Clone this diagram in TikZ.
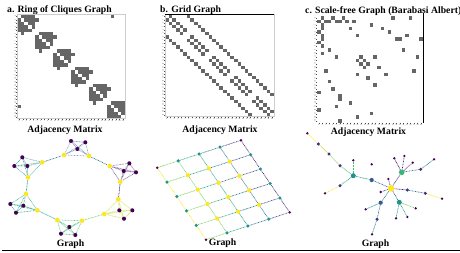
\documentclass[tikz,border=0pt]{standalone}
\usepackage{fontspec}
\setmainfont{Liberation Serif}
\pgfdeclarelayer{bg}\pgfdeclarelayer{paper}\pgfsetlayers{paper,bg,main}
\definecolor{vpur}{HTML}{440154}
\definecolor{vyel}{HTML}{FDE725}
\definecolor{vteal}{HTML}{21918C}
\definecolor{vd2}{HTML}{472D7B}
\definecolor{vd3}{HTML}{365C8D}
\definecolor{vd5}{HTML}{35B779}
\definecolor{cellc}{HTML}{666666}
% viridis samples
\definecolor{v00}{HTML}{440154}
\definecolor{v10}{HTML}{482475}
\definecolor{v20}{HTML}{414487}
\definecolor{v30}{HTML}{355F8D}
\definecolor{v40}{HTML}{2A788E}
\definecolor{v50}{HTML}{21918C}
\definecolor{v60}{HTML}{22A884}
\definecolor{v70}{HTML}{44BF70}
\definecolor{v80}{HTML}{7AD151}
\definecolor{v90}{HTML}{BDDF26}
\definecolor{v100}{HTML}{FDE725}
\tikzset{
  ttl/.style={font=\bfseries\fontsize{9.7}{11}\selectfont, inner sep=0pt},
  tk/.style={font=\fontsize{1.8}{2}\selectfont, inner sep=0.2pt, text=black!80},
  ed/.style={line width=0.65pt, dash pattern=on 0.8pt off 0.7pt},
  vn/.style={circle, inner sep=0pt, draw=none},
  ya/.style={vn, fill=vyel, minimum size=4.7pt},
  pa/.style={vn, fill=vpur, minimum size=4.1pt},
  gd2/.style={vn, fill=vpur, minimum size=2.8pt},
  gd3/.style={vn, fill=vteal, minimum size=3.5pt},
  gd4/.style={vn, fill=vyel, minimum size=4.3pt},
  c1/.style={vn, fill=vpur, minimum size=2.6pt},
  c2/.style={vn, fill=vd2, minimum size=3.4pt},
  c3/.style={vn, fill=vd3, minimum size=4.2pt},
  c4/.style={vn, fill=vteal, minimum size=5pt},
  c5/.style={vn, fill=vd5, minimum size=5.6pt},
  c7/.style={vn, fill=vyel, minimum size=6.7pt},
}
\newcommand\cel[2]{\fill[cellc] ({\mx+(#2)*\mw},{\my+(#1)*\mh}) rectangle ++(\mw,\mh);}
\newcommand\mticks{%
  \foreach \i in {0,...,29}{%
    \draw[line width=0.25pt,black!70] ({\mx+(\i+0.5)*\mw},{\my+30*\mh}) -- ++(0,0.9);
    \node[tk, anchor=north] at ({\mx+(\i+0.5)*\mw},{\my+30*\mh+1}) {\i};
    \draw[line width=0.25pt,black!70] (\mx,{\my+(\i+0.5)*\mh}) -- ++(-0.9,0);
    \node[tk, rotate=90, anchor=south] at ({\mx-1},{\my+(\i+0.5)*\mh}) {\i};
  }}
\newcommand\mkclique[6]{\draw[ed,#6] (#1)--(#2) (#1)--(#3) (#1)--(#4) (#1)--(#5) (#2)--(#3) (#2)--(#4) (#2)--(#5) (#3)--(#4) (#3)--(#5) (#4)--(#5);}
\begin{document}
\begin{tikzpicture}[x=1pt,y=-1pt]
\useasboundingbox (0,0) rectangle (460,252);
\begin{pgfonlayer}{paper}
\fill[white] (0,0) rectangle (460,252);
\end{pgfonlayer}

% titles
\node[ttl, anchor=base west] (ta) at (7,12) {a. Ring of Cliques Graph};
\node[ttl, anchor=base west] (tb) at (160,12.5) {b. Grid Graph};
\node[ttl, anchor=base west] (tc) at (305,13.5) {c. Scale-free Graph (Barabasi Albert)};

% ---------- matrix a ----------
\def\mx{17.3}\def\my{14.7}\def\mw{3.59}\def\mh{3.46}
\foreach \k in {0,...,5}{\foreach \r in {0,...,4}{\foreach \c in {0,...,4}{%
  \ifnum\r=\c\else\cel{5*\k+\r}{5*\k+\c}\fi}}}
\foreach \k in {0,...,5}{\pgfmathtruncatemacro\t{mod(5*\k+5,30)}\cel{5*\k+1}{\t}\cel{\t}{5*\k+1}}
\draw[black!20, line width=0.5pt] (\mx,\my) rectangle ++({30*\mw},{30*\mh});
\mticks

% ---------- matrix b ----------
\def\mx{165}\def\my{14.7}\def\mw{3.63}\def\mh{3.4}
\foreach \a in {0,...,4}{\foreach \b in {0,...,5}{%
  \pgfmathtruncatemacro\n{6*\a+\b}%
  \ifnum\b<5 \cel{\n}{\n+1}\cel{\n+1}{\n}\fi
  \ifnum\a<4 \cel{\n}{\n+6}\cel{\n+6}{\n}\fi}}
\draw[black!20, line width=0.5pt] (\mx,\my) rectangle ++({30*\mw},{30*\mh});
\draw[black, line width=0.8pt] (\mx,\my) -- ++({30*\mw},0);
\mticks

% ---------- matrix c ----------
\def\mx{317}\def\my{16}\def\mw{3.53}\def\mh{3.55}
\foreach \p/\q in {0/1,0/4,0/7,0/21,0/26,1/2,1/3,1/5,1/6,1/8,1/10,2/15,3/9,3/18,4/20,5/11,5/25,6/22,6/23,6/29,9/24,11/12,11/16,11/28,12/13,13/14,14/17,15/27,16/19}{\cel{\p}{\q}\cel{\q}{\p}}
\draw[black, line width=0.8pt] ({\mx+30*\mw},{\my-3}) -- ({\mx+30*\mw},{\my+30*\mh});
\mticks

% labels
\node[ttl, anchor=base] (ama) at (65,132) {Adjacency Matrix};
\node[ttl, anchor=base] (amb) at (220,132) {Adjacency Matrix};
\node[ttl, anchor=base] (amc) at (368.5,134.5) {Adjacency Matrix};
\node[ttl, anchor=base] (gla) at (70.5,246.3) {Graph};
\node[ttl, anchor=base] (glb) at (222.5,245.5) {Graph};
\node[ttl, anchor=base] (glc) at (375.5,246.5) {Graph};

% ---------- graph a ----------
\node[pa] (T1) at (71,141) {};   \node[pa] (T2) at (85.3,142.3) {}; \node[pa] (T3) at (77.3,149) {};
\node[ya] (Ty1) at (64,155) {};  \node[ya] (Ty2) at (89,156) {};
\node[ya] (RTy1) at (109.7,166) {}; \node[ya] (RTy2) at (120.3,181.7) {};
\node[pa] (RT1) at (129.3,163.3) {}; \node[pa] (RT2) at (123.7,171) {}; \node[pa] (RT3) at (136,172.3) {};
\node[ya] (RBy1) at (118.3,199.3) {}; \node[ya] (RBy2) at (104.3,214) {};
\node[pa] (RB1) at (119.3,210.3) {}; \node[pa] (RB2) at (132.3,210.3) {}; \node[pa] (RB3) at (124,218.7) {};
\node[ya] (By1) at (82,220.7) {}; \node[ya] (By2) at (57.3,220) {};
\node[pa] (B1) at (69.3,227) {}; \node[pa] (B2) at (61,233.7) {}; \node[pa] (B3) at (75.3,235) {};
\node[ya] (LBy1) at (37.3,210.3) {}; \node[ya] (LBy2) at (26,194) {};
\node[pa] (LB1) at (10.3,204) {}; \node[pa] (LB2) at (23.3,205.7) {}; \node[pa] (LB3) at (16,212.7) {};
\node[ya] (LTy1) at (28,177.3) {}; \node[ya] (LTy2) at (42.3,162.3) {};
\node[pa] (LT1) at (22.3,157.3) {}; \node[pa] (LT2) at (14.3,166) {}; \node[pa] (LT3) at (27.3,166) {};
\begin{pgfonlayer}{bg}
\mkclique{T1}{T2}{T3}{Ty1}{Ty2}{v30!60}
\mkclique{RT1}{RT2}{RT3}{RTy1}{RTy2}{v10!70}
\mkclique{RB1}{RB2}{RB3}{RBy1}{RBy2}{v90!80}
\mkclique{B1}{B2}{B3}{By1}{By2}{v70!80}
\mkclique{LB1}{LB2}{LB3}{LBy1}{LBy2}{v60!80}
\mkclique{LT1}{LT2}{LT3}{LTy1}{LTy2}{v50!70}
\draw[ed,v40] (Ty2) -- (RTy1);
\draw[ed,v10] (RTy2) -- (RBy1);
\draw[ed,v80] (RBy2) -- (By1);
\draw[ed,v60] (By2) -- (LBy1);
\draw[ed,v60] (LBy2) -- (LTy1);
\draw[ed,v40] (LTy2) -- (Ty1);
\end{pgfonlayer}

% ---------- graph b ----------
\foreach \i in {0,...,4}{\foreach \j in {0,...,5}{%
  \pgfmathtruncatemacro\dg{4-(\i==0)-(\i==4)-(\j==0)-(\j==5)}%
  \node[gd\dg] (g\i\j) at ({157.3+20.9*\i+9.74*\j},{167.7-6.85*\i+14.4*\j}) {};}}
\begin{pgfonlayer}{bg}
\foreach \i/\cc in {0/v100,1/v80,2/v60,3/v40,4/v10}{\foreach \j in {0,...,4}{%
  \pgfmathtruncatemacro\jn{\j+1}\draw[ed,\cc] (g\i\j) -- (g\i\jn);}}
\foreach \i/\cc in {0/v80,1/v60,2/v40,3/v20}{\foreach \j in {0,...,5}{%
  \pgfmathtruncatemacro\inx{\i+1}\draw[ed,\cc] (g\i\j) -- (g\inx\j);}}
\end{pgfonlayer}

% ---------- graph c ----------
\node[c1] (cA) at (307.3,133.3) {};
\node[c2] (cB) at (318.3,144) {};
\node[c2] (cC) at (329,154) {};
\node[c2] (cD) at (340,165.7) {};
\node[c1] (cE) at (353.3,160.3) {};
\node[c4] (cF) at (353.3,175.7) {};
\node[c2] (cG) at (340,185.7) {};
\node[c1] (cH) at (325,193.3) {};
\node[c1] (cI) at (371.7,164.3) {};
\node[c3] (cJ) at (371.7,180) {};
\node[c1] (cK) at (394.3,158.3) {};
\node[c1] (cL) at (404.3,156) {};
\node[c1] (cM) at (412.7,162.7) {};
\node[c5] (cN) at (401.7,172.3) {};
\node[c2] (cO) at (420.7,169.3) {};
\node[c1] (cP) at (434,159.3) {};
\node[c1] (cQ) at (388.3,179) {};
\node[c7] (cR) at (391,188.3) {};
\node[c1] (cS) at (380.7,192) {};
\node[c2] (cT) at (407.3,190) {};
\node[c2] (cU) at (425.3,193.3) {};
\node[c1] (cV) at (442,198.7) {};
\node[c3] (cW) at (380.7,202.7) {};
\node[c1] (cX) at (365.7,209.3) {};
\node[c2] (cY) at (377,219.3) {};
\node[c1] (cZ) at (372,234.3) {};
\node[c4] (cAA) at (399.3,202.3) {};
\node[c1] (cAB) at (415.7,208.3) {};
\node[c1] (cAC) at (407.3,217) {};
\node[c1] (cAD) at (396,218.3) {};
\begin{pgfonlayer}{bg}
\foreach \p/\q/\cc in {cA/cB/v100,cB/cC/v90,cC/cD/v80,cD/cF/v70,cE/cF/v70,cF/cG/v60,cG/cH/v100,
  cF/cJ/v50,cJ/cR/v30,cR/cN/v10,cN/cK/v00,cN/cL/v10,cN/cM/v10,cN/cO/v30,cO/cP/v40,
  cR/cQ/v20,cR/cS/v20,cR/cT/v10,cT/cU/v40,cU/cV/v100,cR/cW/v40,cW/cX/v50,cW/cY/v40,
  cY/cZ/v50,cR/cAA/v30,cAA/cAB/v80,cAA/cAC/v60,cAA/cAD/v50}{\draw[ed,\cc] (\p) -- (\q);}
\end{pgfonlayer}

% bottom rule
\draw[black, line width=0.8pt] (2,250.5) -- (460,250.5);
\end{tikzpicture}
\end{document}
